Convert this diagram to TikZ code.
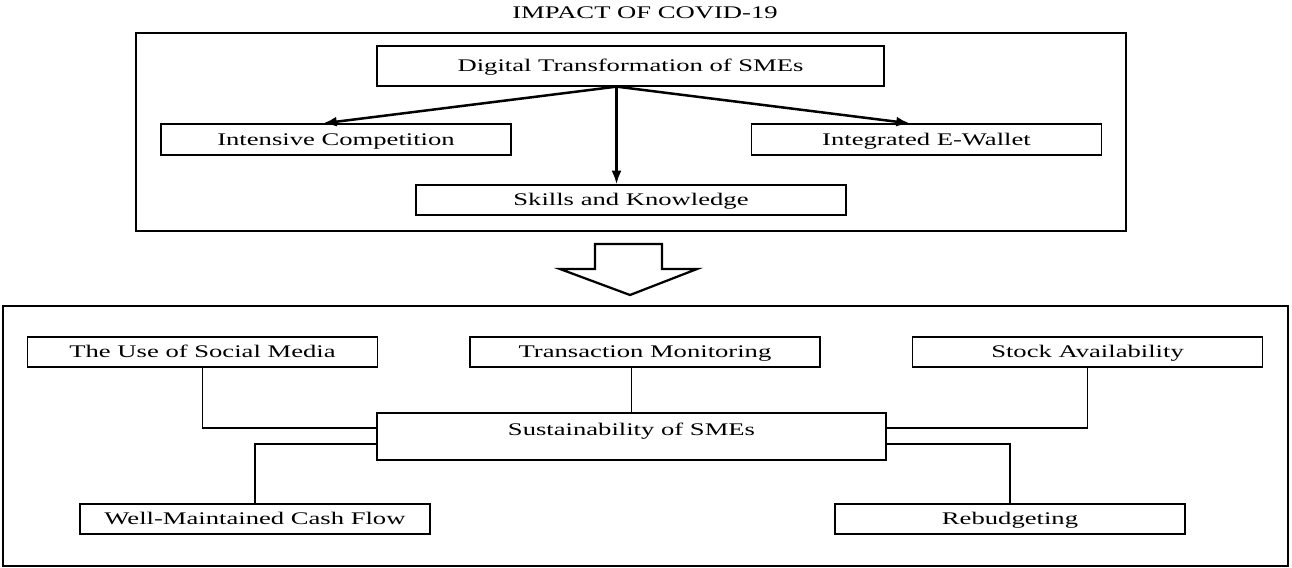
\documentclass[tikz,border=0pt]{standalone}
\usepackage{fontspec}
\setmainfont{Liberation Serif}[FakeStretch=1.5]
\usetikzlibrary{arrows.meta}
\begin{document}
\begin{tikzpicture}[x=0.4pt, y=-0.4pt, line width=0.5pt,
  box/.style={draw, inner sep=0pt, minimum width=140pt, minimum height=12pt,
    text height=6.2pt, text depth=1.5pt, font=\fontsize{7.1}{8}\selectfont},
  frame/.style={draw, line width=1pt},
  flow/.style={-{Latex[length=5.5pt,width=4pt]}, line width=1pt},
  link/.style={line width=0.45pt}]
  \useasboundingbox (0,0) rectangle (1292,567);
  % upper panel
  \node[font=\fontsize{7.1}{8}\selectfont, inner sep=1pt] (title) at (645,13) {IMPACT OF COVID-19};
  \draw[frame] (136,33) rectangle (1126,231);
  \node[box, minimum width=202.8pt, minimum height=16pt] (digital) at (630.5,66) {Digital Transformation of SMEs};
  \node[box, minimum height=12.4pt] (intcomp) at (336,139.5) {Intensive Competition};
  \node[box, minimum height=12.4pt] (ewallet) at (926.5,139.5) {Integrated E-Wallet};
  \node[box, minimum width=172pt] (skills) at (631,200) {Skills and Knowledge};
  \coordinate (fork) at ([xshift=-5.6pt]digital.south);
  \draw[flow] (fork) -- ([xshift=-5.2pt]intcomp.north);
  \draw[flow] (fork) -- (fork |- skills.north);
  \draw[flow] (fork) -- ([xshift=-6.6pt]ewallet.north);
  % hollow arrow
  \draw[line width=0.9pt] (595,244) -- (662,244) -- (662,269) -- (697,269) -- (630,295)
    -- (560,269) -- (595,269) -- cycle;
  % lower panel
  \draw[frame] (3,306) rectangle (1288,566);
  \node[box] (social) at (202.5,352) {The Use of Social Media};
  \node[box] (trans) at (645,352) {Transaction Monitoring};
  \node[box] (stock) at (1087.5,352) {Stock Availability};
  \node[box, minimum width=203.6pt, minimum height=18.8pt, text depth=6.7pt] (sust) at (631.5,436.5) {Sustainability of SMEs};
  \node[box] (cash) at (255,519) {Well-Maintained Cash Flow};
  \node[box] (rebudget) at (1010,519) {Rebudgeting};
  \draw[link] ([yshift=3.4pt]sust.west) -| (social);
  \draw[link] (sust.north) -- (sust.north |- trans.south);
  \draw[link] ([yshift=3.4pt]sust.east) -| (stock);
  \draw[link] ([yshift=-3pt]sust.west) -| (cash);
  \draw[link] ([yshift=-3pt]sust.east) -| (rebudget);
\end{tikzpicture}
\end{document}
